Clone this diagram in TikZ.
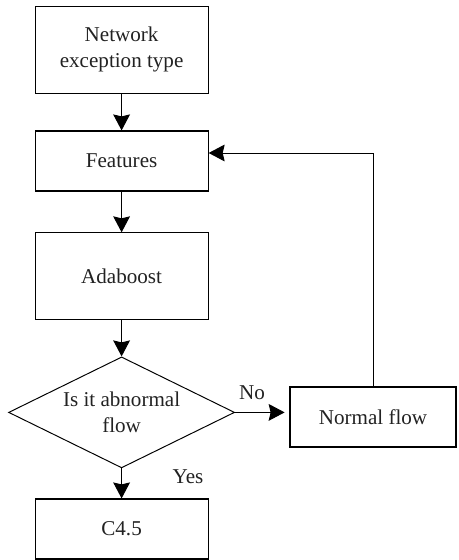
\documentclass[tikz,border=0pt]{standalone}
\usepackage{fontspec}
\setmainfont{Liberation Serif}
\usetikzlibrary{positioning, arrows.meta, shapes.geometric, calc}
\definecolor{flowText}{HTML}{222222}

\begin{document}
\begin{tikzpicture}[
    every node/.style={font=\fontsize{15}{18}\selectfont, text=flowText},
    procbox/.style={draw=black, line width=0.8pt, minimum width=43.25mm, align=center, inner sep=0pt},
    decbox/.style={draw=black, line width=0.7pt, diamond, aspect=2.04, minimum width=56.5mm, minimum height=27.75mm, align=center, inner sep=0pt},
    flowline/.style={draw=black, line width=0.7pt, -{Stealth[length=4mm, width=4.2mm, inset=0.5mm]}}
]
\useasboundingbox (0mm, 0mm) rectangle (114.5mm, 140mm);

% ============================
% Main column
% ============================
\node[procbox, minimum height=21.75mm] (nettype) at (30.4mm, 127.6mm) {Network\\exception type};
\node[procbox, minimum height=15mm] (feat) at (30.4mm, 99.75mm) {Features};
\node[procbox, minimum height=21.75mm] (ada) at (30.4mm, 70.9mm) {Adaboost};
\node[decbox] (abn) at (30.4mm, 36.9mm) {Is it abnormal\\flow};
\node[procbox, minimum height=15mm] (cfour) at (30.4mm, 7.75mm) {C4.5};

% Right branch
\node[procbox, minimum width=41.5mm, minimum height=15mm] (normal) at (93.25mm, 35.75mm) {Normal flow};
\coordinate (back) at ($(feat.east)+(0,2mm)$);

% Arrows
\draw[flowline] (nettype) -- (feat);
\draw[flowline] (feat) -- (ada);
\draw[flowline] (ada) -- (abn);
\draw[flowline] (abn) -- (cfour);
\draw[flowline, shorten >=1.2mm] (abn.east) -- (abn.east -| normal.west);
\draw[flowline] (normal.north) |- (back);

% Branch labels
\node (yes) at (47mm, 20.75mm) {Yes};
\node (no) at (63mm, 41.75mm) {No};

\end{tikzpicture}
\end{document}
